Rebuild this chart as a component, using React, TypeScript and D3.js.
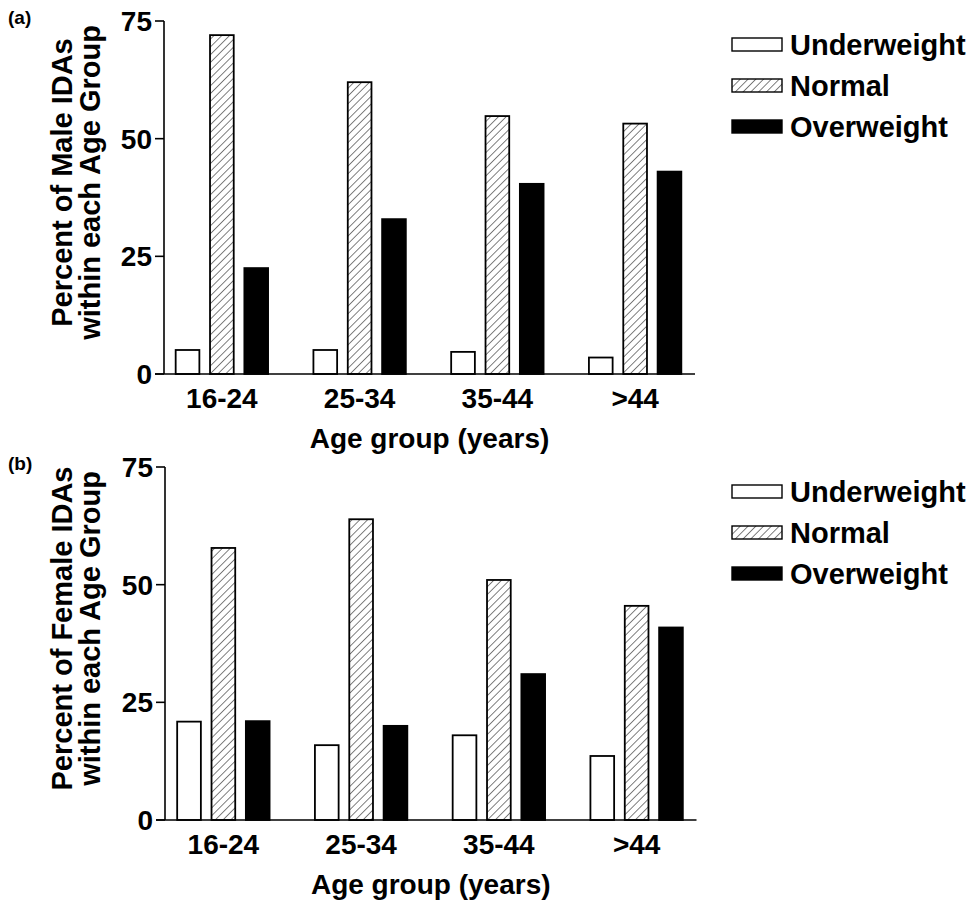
import React from "react";
import * as d3 from "d3";

const categories = ["16-24", "25-34", "35-44", ">44"];
const seriesNames = ["Underweight", "Normal", "Overweight"];
const maleUnderweight = [5.1, 5.1, 4.7, 3.5];
const maleNormal = [72.0, 62.0, 54.8, 53.2];
const maleOverweight = [22.5, 32.9, 40.4, 43.0];
const femaleUnderweight = [20.9, 15.9, 18.0, 13.6];
const femaleNormal = [57.8, 63.9, 51.0, 45.5];
const femaleOverweight = [21.0, 20.0, 31.0, 40.9];
const yTicks = [0, 25, 50, 75];

const FONT = "'Liberation Sans', Arial, Helvetica, sans-serif";

const fills = (s: string) =>
  s === "Underweight" ? "#fff" : s === "Normal" ? "url(#hatch)" : "#000";

type PanelProps = {
  tag: string;
  label1: string;
  label2: string;
  values: number[][];
  axisX: number;
  y0: number;
  y75: number;
  xStart: number;
  xEnd: number;
  legendTop: number;
};

function Panel(p: PanelProps) {
  const y = d3.scaleLinear().domain([0, 75]).range([p.y0, p.y75]);
  const x = d3.scaleBand<string>().domain(categories).range([p.xStart, p.xEnd]).paddingInner(0).paddingOuter(0);
  const xi = d3
    .scaleBand<string>()
    .domain(seriesNames)
    .range([0, x.bandwidth()])
    .paddingInner(0.31)
    .paddingOuter(0.66);
  const labelCenter = (p.y0 + p.y75) / 2 - 15;
  return (
    <g>
      <text x={8} y={p.y75 + 3} fontFamily={FONT} fontWeight="bold" fontSize={19}>
        {p.tag}
      </text>
      <text
        transform={`translate(72,${labelCenter}) rotate(-90)`}
        textAnchor="middle"
        fontFamily={FONT}
        fontWeight="bold"
        fontSize={29}
      >
        {p.label1}
      </text>
      <text
        transform={`translate(100,${labelCenter}) rotate(-90)`}
        textAnchor="middle"
        fontFamily={FONT}
        fontWeight="bold"
        fontSize={29}
      >
        {p.label2}
      </text>
      {categories.map((c, ci) =>
        seriesNames.map((s, si) => {
          const v = p.values[si][ci];
          const bx = (x(c) as number) + (xi(s) as number);
          return (
            <rect
              key={c + s}
              x={bx}
              y={y(v)}
              width={xi.bandwidth()}
              height={p.y0 - y(v)}
              fill={fills(s)}
              stroke="#000"
              strokeWidth={1.8}
            />
          );
        })
      )}
      <line x1={p.axisX} x2={p.axisX} y1={p.y75} y2={p.y0} stroke="#000" strokeWidth={1.6} />
      <line x1={p.axisX - 9} x2={p.xEnd - 9} y1={p.y0} y2={p.y0} stroke="#000" strokeWidth={1.6} />
      {yTicks.map((t) => (
        <g key={t}>
          <line x1={p.axisX - 9} x2={p.axisX} y1={y(t)} y2={y(t)} stroke="#000" strokeWidth={1.6} />
          <text
            x={p.axisX - 12}
            y={y(t)}
            dy="0.36em"
            textAnchor="end"
            fontFamily={FONT}
            fontWeight="bold"
            fontSize={28}
          >
            {t}
          </text>
        </g>
      ))}
      {categories.map((c) => (
        <text
          key={c}
          x={(x(c) as number) + x.bandwidth() / 2}
          y={p.y0 + 34}
          textAnchor="middle"
          fontFamily={FONT}
          fontWeight="bold"
          fontSize={28}
        >
          {c}
        </text>
      ))}
      <text
        x={(p.axisX + p.xEnd - 9) / 2}
        y={p.y0 + 74}
        textAnchor="middle"
        fontFamily={FONT}
        fontWeight="bold"
        fontSize={28}
      >
        Age group (years)
      </text>
      {seriesNames.map((s, i) => (
        <g key={s} transform={`translate(732,${p.legendTop + i * 41})`}>
          <rect x={0} y={0} width={50} height={13} fill={fills(s)} stroke="#000" strokeWidth={1.4} />
          <text x={58} y={17} fontFamily={FONT} fontWeight="bold" fontSize={29}>
            {s}
          </text>
        </g>
      ))}
    </g>
  );
}

export default function App() {
  return (
    <svg
      width={971}
      height={900}
      style={{ position: "absolute", left: 0, top: 0, background: "#fff" }}
    >
      <defs>
        <pattern id="hatch" patternUnits="userSpaceOnUse" width={5.5} height={5.5} patternTransform="rotate(45)">
          <rect width={5.5} height={5.5} fill="#fff" />
          <line x1={0} y1={0} x2={0} y2={5.5} stroke="#000" strokeWidth={1} />
        </pattern>
      </defs>
      <rect width={971} height={900} fill="#fff" />
      <Panel
        tag="(a)"
        label1="Percent of Male IDAs"
        label2="within each Age Group"
        values={[maleUnderweight, maleNormal, maleOverweight]}
        axisX={164}
        y0={374}
        y75={21}
        xStart={153}
        xEnd={704}
        legendTop={38}
      />
      <Panel
        tag="(b)"
        label1="Percent of Female IDAs"
        label2="within each Age Group"
        values={[femaleUnderweight, femaleNormal, femaleOverweight]}
        axisX={165}
        y0={820}
        y75={467}
        xStart={154.5}
        xEnd={705.5}
        legendTop={485}
      />
    </svg>
  );
}
